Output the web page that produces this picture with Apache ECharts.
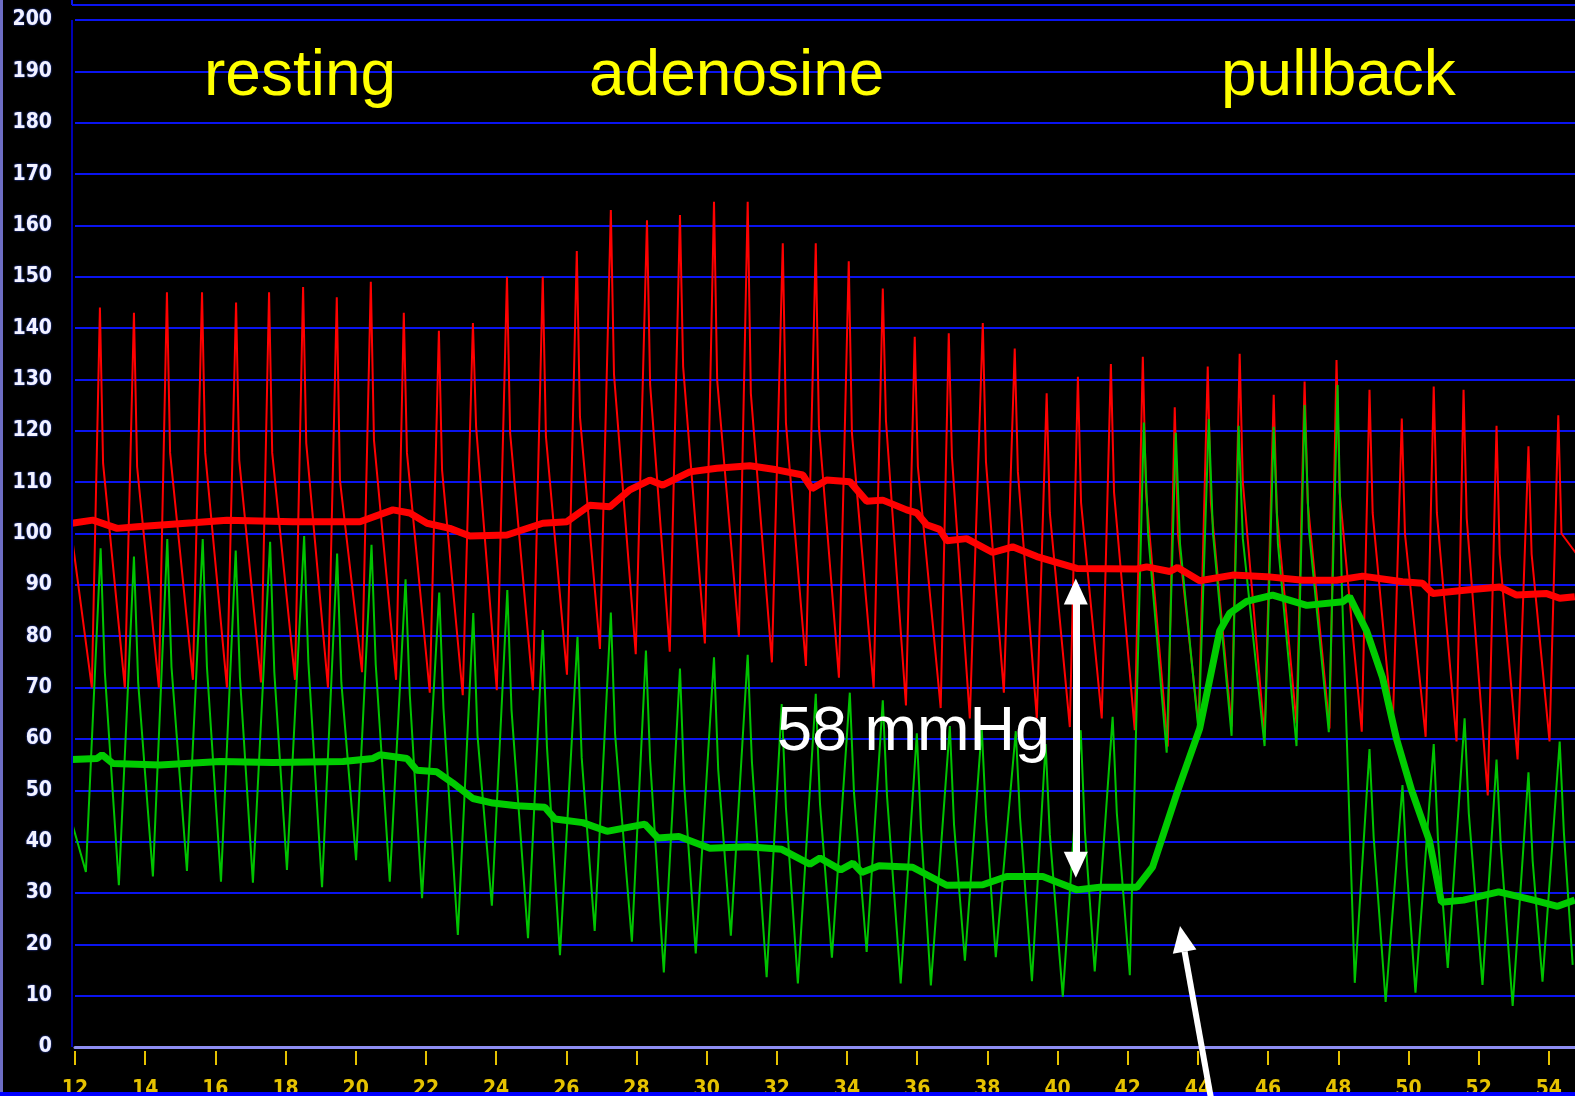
<!DOCTYPE html>
<html>
<head>
<meta charset="utf-8">
<title>Pressure tracing</title>
<script src="https://cdn.jsdelivr.net/npm/echarts@6/dist/echarts.min.js"></script>
<style>
    html, body { margin: 0; background: #000; }
    #main { width: 1575px; height: 1096px; }
</style>
</head>
<body>
<div id="main"></div>
<script>
// time in s, pressure in mmHg, read off the tracing
// aortic (red) pulsatile trace: beat start (trough), systolic peak, end of the fast fall (shoulder)
var redTroughT = [12.48, 13.42, 14.39, 15.36, 16.33, 17.30, 18.27, 19.21, 20.18, 21.15, 22.11, 23.05, 24.02, 25.05, 26.02, 26.96, 27.98, 28.95, 29.95, 30.92, 31.86, 32.83, 33.77, 34.76, 35.68, 36.67, 37.50, 38.47, 39.41, 40.35, 41.26, 42.20, 43.14, 44.02, 44.96, 45.90, 46.81, 47.75, 48.67, 49.55, 50.49, 51.37, 52.26, 53.11, 54.02];
var redTrough = [70, 70, 70, 71.5, 70, 71, 71.5, 70, 73, 71.5, 69, 68.5, 69.5, 69.5, 72.5, 77.5, 76.5, 77, 78.6, 79.9, 74.9, 74.2, 71.9, 69.9, 66.5, 66, 64, 69, 64, 62.3, 64, 61.7, 58.5, 62.4, 62.4, 60.4, 63, 62, 61.4, 61.7, 60.4, 59.5, 49, 56, 59.5];
var redPeakT = [12.71, 13.68, 14.62, 15.62, 16.59, 17.53, 18.50, 19.46, 20.43, 21.37, 22.37, 23.34, 24.31, 25.33, 26.30, 27.27, 28.30, 29.24, 30.21, 31.17, 32.17, 33.11, 34.05, 35.02, 35.93, 36.90, 37.87, 38.78, 39.69, 40.58, 41.52, 42.43, 43.34, 44.28, 45.19, 46.16, 47.04, 47.95, 48.89, 49.81, 50.72, 51.57, 52.51, 53.42, 54.27];
var redPeak = [144, 143, 147, 147, 145, 147, 148, 146, 149, 143, 139.5, 141, 150, 150, 155, 163, 161, 162, 164.6, 164.6, 156.5, 156.5, 153, 147.7, 138.3, 139, 141, 136, 127.3, 130.5, 133, 134.4, 124.6, 132.5, 135, 127, 129.6, 133.8, 128, 122.4, 128.6, 128, 121, 117, 123];
var redShoulderT = [12.80, 13.77, 14.71, 15.71, 16.68, 17.62, 18.59, 19.55, 20.52, 21.46, 22.46, 23.43, 24.40, 25.42, 26.39, 27.36, 28.39, 29.33, 30.30, 31.26, 32.26, 33.20, 34.14, 35.11, 36.02, 36.99, 37.96, 38.87, 39.78, 40.67, 41.61, 42.52, 43.43, 44.37, 45.28, 46.25, 47.13, 48.04, 48.98, 49.90, 50.81, 51.66, 52.60, 53.51, 54.36];
var redShoulder = [113.7, 113, 115.7, 115.7, 114.3, 115.7, 117.6, 110.4, 118.2, 115.7, 112.4, 120.8, 119.6, 118.9, 122.7, 131, 129, 132.5, 129.9, 127.3, 121.5, 120.8, 119.6, 122, 113, 115, 114, 112, 104, 106, 108, 108, 100, 106, 110, 104, 106, 108, 104, 100, 104, 103, 96, 96, 100];

// distal (green) pulsatile trace
var greenTroughT = [12.31, 13.25, 14.22, 15.19, 16.16, 17.07, 18.04, 19.04, 20.01, 20.97, 21.89, 22.91, 23.88, 24.91, 25.82, 26.81, 27.87, 28.78, 29.69, 30.69, 31.71, 32.60, 33.57, 34.56, 35.53, 36.39, 37.36, 38.24, 39.27, 40.15, 41.06, 42.06, 43.11, 44.02, 44.96, 45.90, 46.81, 47.73, 48.47, 49.35, 50.20, 51.12, 52.11, 52.97, 53.82, 54.68];
var greenTrough = [34.1, 31.5, 33.2, 34.3, 32.2, 32, 34.5, 31.1, 36.4, 32.2, 29, 21.8, 27.5, 21.2, 17.9, 22.6, 20.5, 14.5, 18.2, 21.7, 13.6, 12.4, 17.4, 18.5, 12.4, 12, 16.8, 17.5, 12.8, 9.8, 14.7, 14, 57.3, 61.5, 60.6, 58.6, 58.6, 61.3, 12.5, 8.8, 10.6, 15.4, 12.1, 8, 12.7, 16];
var greenPeakT = [12.73, 13.68, 14.63, 15.64, 16.58, 17.56, 18.53, 19.47, 20.45, 21.42, 22.38, 23.35, 24.32, 25.33, 26.32, 27.27, 28.27, 29.24, 30.21, 31.17, 32.14, 33.11, 34.08, 35.02, 35.99, 36.93, 37.84, 38.81, 39.66, 40.66, 41.57, 42.46, 43.37, 44.31, 45.16, 46.16, 47.04, 47.98, 48.89, 49.83, 50.72, 51.60, 52.51, 53.42, 54.31];
var greenPeak = [97.1, 95.5, 98.9, 98.9, 96.7, 98.4, 99.5, 96.1, 97.8, 91.1, 88.5, 84.5, 89, 81.2, 79.9, 84.6, 77.2, 73.7, 75.9, 76.4, 66.8, 68.8, 69, 67.5, 61.1, 62.5, 62.1, 61.5, 59, 61.7, 64.3, 121.6, 119.6, 122.3, 121, 120.8, 125, 128.9, 58, 51, 59, 64, 56, 53.5, 59.5];
var greenShoulderT = [12.85, 13.80, 14.75, 15.76, 16.70, 17.68, 18.65, 19.59, 20.57, 21.54, 22.50, 23.47, 24.44, 25.45, 26.44, 27.39, 28.39, 29.36, 30.33, 31.29, 32.26, 33.23, 34.20, 35.14, 36.11, 37.05, 37.96, 38.93, 39.78, 40.78, 41.69, 42.58, 43.49, 44.43, 45.28, 46.28, 47.16, 48.10, 49.01, 49.95, 50.84, 51.72, 52.63, 53.54, 54.43];
var greenShoulder = [73, 71, 74, 74, 72, 73, 75, 71, 74.5, 68.7, 66, 60.7, 65.6, 58.4, 56.3, 61, 55.7, 51.2, 54, 55.6, 46.6, 47.4, 49.4, 48.9, 42.6, 43.3, 44.9, 44.8, 41.4, 42, 45.5, 100, 98, 100, 99, 98, 101, 90, 40.7, 35, 40.6, 45.5, 39.3, 36.2, 41.7];

// mean pressures (thick lines)
var redMeanT = [11.91, 12.51, 13.20, 13.77, 15.36, 16.33, 18.21, 20.12, 21.06, 21.54, 22.03, 22.68, 23.25, 24.31, 25.33, 26.02, 26.67, 27.24, 27.81, 28.38, 28.75, 29.52, 30.29, 31.23, 32.00, 32.74, 33.00, 33.42, 34.08, 34.56, 35.02, 35.70, 35.99, 36.27, 36.64, 36.84, 37.41, 38.15, 38.72, 39.41, 40.55, 42.26, 42.54, 43.20, 43.42, 44.05, 44.99, 45.96, 46.99, 47.95, 48.69, 49.83, 50.40, 50.69, 51.66, 52.60, 53.08, 53.94, 54.31, 54.74];
var redMean = [102, 102.6, 101, 101.3, 102.1, 102.6, 102.3, 102.3, 104.6, 104, 102, 101, 99.5, 99.7, 102, 102.3, 105.5, 105.2, 108.5, 110.4, 109.4, 112, 112.7, 113.2, 112.4, 111.4, 108.7, 110.4, 110.1, 106.3, 106.5, 104.6, 104, 101.7, 100.8, 98.6, 99, 96.3, 97.4, 95.5, 93.2, 93.1, 93.5, 92.6, 93.4, 90.8, 91.9, 91.6, 90.9, 90.9, 91.7, 90.6, 90.3, 88.3, 89, 89.6, 88, 88.3, 87.4, 87.7];
var greenMeanT = [11.91, 12.63, 12.77, 13.08, 14.42, 16.13, 17.64, 19.64, 20.49, 20.69, 21.46, 21.74, 22.31, 22.77, 23.34, 23.91, 24.59, 25.39, 25.68, 26.47, 27.16, 28.24, 28.61, 29.21, 30.09, 31.17, 32.14, 32.94, 33.23, 33.82, 34.17, 34.42, 34.91, 35.87, 36.84, 37.87, 38.55, 39.58, 40.55, 41.20, 42.26, 42.71, 43.45, 44.05, 44.62, 44.91, 45.39, 46.13, 47.10, 48.13, 48.32, 48.81, 49.26, 49.66, 50.09, 50.60, 50.94, 51.57, 52.57, 53.57, 54.25, 54.74];
var greenMean = [56, 56.2, 56.9, 55.2, 54.9, 55.6, 55.4, 55.6, 56.2, 56.9, 56.2, 53.9, 53.6, 51.4, 48.4, 47.5, 47, 46.7, 44.4, 43.7, 42, 43.4, 40.7, 41, 38.7, 39, 38.5, 35.6, 36.8, 34.5, 35.8, 34, 35.3, 35, 31.5, 31.6, 33.2, 33.2, 30.6, 31.1, 31.1, 35.1, 50.4, 62, 81, 84.5, 86.8, 88, 86, 86.7, 87.7, 81, 72, 60, 50, 40.1, 28.2, 28.6, 30.2, 28.6, 27.4, 28.6];

var redStart = [11.9, 100], redEnd = [54.9, 95];
var greenStart = [11.9, 44];

// annotations
var phaseNames = ['resting', 'adenosine', 'pullback'];
var gapLabel = '58 mmHg';
var gapTime = 40.52, gapTop = 88.7, gapBottom = 35.5;

function zipPts(ts, vs) {
    var out = [];
    for (var i = 0; i < ts.length; i++) out.push([ts[i], vs[i]]);
    return out;
}
function beatPts(start, troughT, trough, peakT, peak, shT, sh, end) {
    var out = [start];
    for (var i = 0; i < troughT.length; i++) {
        out.push([troughT[i], trough[i]]);
        if (i < peakT.length) {
            out.push([peakT[i], peak[i]]);
            out.push([shT[i], sh[i]]);
        }
    }
    if (end) out.push(end);
    return out;
}

var gold = '#e6c200';
var tickFont = '"DejaVu Sans Condensed", "DejaVu Sans", sans-serif';
var textFont = '"Liberation Sans", Arial, sans-serif';

function note(text, x, baseline, fs, color) {
    return {
        type: 'text', x: x, y: baseline - 0.32 * fs, z: 100,
        style: { text: text, x: 0, y: 0, font: fs + 'px ' + textFont, fill: color,
                 align: 'left', verticalAlign: 'middle', textAlign: 'left', textVerticalAlign: 'middle' }
    };
}

// arrow pointing up from below the axis
var tip = [1180, 926], tail = [1212, 1104];
var dx = tip[0] - tail[0], dy = tip[1] - tail[1], len = Math.sqrt(dx * dx + dy * dy);
var ux = dx / len, uy = dy / len, headL = 26, headW = 12;
var bx = tip[0] - headL * ux, by = tip[1] - headL * uy;

var option = {
    backgroundColor: '#000',
    animation: false,
    grid: { left: 75, top: 20, width: 1544, height: 1027, outerBoundsMode: 'none', containLabel: false },
    xAxis: [{
        type: 'value', min: 12, max: 56, interval: 2, z: 5,
        axisLine: { show: true, lineStyle: { color: '#8e8ef2', width: 3 } },
        axisTick: { show: false }, axisLabel: { show: false }, splitLine: { show: false }
    }, {
        type: 'value', position: 'bottom', offset: 4, min: 12, max: 56, interval: 2,
        axisLine: { show: false },
        axisTick: { show: true, length: 14, lineStyle: { color: gold, width: 2 } },
        axisLabel: { color: gold, fontSize: 21, fontWeight: 'bold', fontFamily: tickFont, margin: 28 },
        splitLine: { show: false }
    }],
    yAxis: {
        type: 'value', min: 0, max: 200, interval: 10,
        axisLine: { show: false }, axisTick: { show: false },
        axisLabel: { color: '#f2f2ff', fontSize: 21, fontWeight: 'bold', fontFamily: tickFont, margin: 23,
                     textShadowColor: '#3a5cff', textShadowBlur: 2 },
        splitLine: { show: true, lineStyle: { color: '#0a14f0', width: 2 } }
    },
    series: [{
        name: 'Pa', type: 'line', showSymbol: false, silent: true, z: 2,
        data: beatPts(redStart, redTroughT, redTrough, redPeakT, redPeak, redShoulderT, redShoulder, redEnd),
        lineStyle: { color: '#ff0000', width: 2 }
    }, {
        name: 'Pd', type: 'line', showSymbol: false, silent: true, z: 3,
        data: beatPts(greenStart, greenTroughT, greenTrough, greenPeakT, greenPeak, greenShoulderT, greenShoulder, null),
        lineStyle: { color: '#00c400', width: 2 }
    }, {
        name: 'Pa mean', type: 'line', showSymbol: false, silent: true, z: 4,
        data: zipPts(redMeanT, redMean),
        lineStyle: { color: '#ff0000', width: 7 }
    }, {
        name: 'Pd mean', type: 'line', showSymbol: false, silent: true, z: 5,
        data: zipPts(greenMeanT, greenMean),
        lineStyle: { color: '#00cc00', width: 7 }
    }, {
        name: 'gap', type: 'line', data: [], z: 10,
        markLine: {
            silent: true, animation: false,
            symbol: ['triangle', 'triangle'], symbolSize: [24, 26],
            label: { show: false },
            lineStyle: { color: '#ffffff', width: 7, type: 'solid' },
            data: [[{ coord: [gapTime, gapTop] }, { coord: [gapTime, gapBottom] }]]
        }
    }],
    graphic: [
        { type: 'rect', shape: { x: 0, y: 0, width: 3, height: 1096 }, style: { fill: '#6d6dc4' }, z: 50 },
        { type: 'rect', shape: { x: 72, y: 4, width: 1503, height: 2 }, style: { fill: '#0a14f0' }, z: 50 },
        { type: 'rect', shape: { x: 71, y: 0, width: 2, height: 5 }, style: { fill: '#0a14f0' }, z: 50 },
        { type: 'rect', shape: { x: 71, y: 20, width: 2, height: 1027 }, style: { fill: '#0000b4' }, z: 50 },
        { type: 'rect', shape: { x: 0, y: 1092, width: 1575, height: 4 }, style: { fill: '#0000ff' }, z: 50 },
        note(phaseNames[0], 204, 98, 64, '#ffff00'),
        note(phaseNames[1], 589, 98, 64, '#ffff00'),
        note(phaseNames[2], 1221, 98, 64, '#ffff00'),
        note(gapLabel, 777, 753, 63, '#ffffff'),
        { type: 'line', z: 60, shape: { x1: tail[0], y1: tail[1], x2: bx, y2: by },
          style: { stroke: '#ffffff', lineWidth: 6 } },
        { type: 'polygon', z: 60,
          shape: { points: [tip, [bx - headW * uy, by + headW * ux], [bx + headW * uy, by - headW * ux]] },
          style: { fill: '#ffffff' } }
    ]
};

var myChart = echarts.init(document.getElementById('main'));
myChart.setOption(option);
</script>
</body>
</html>
